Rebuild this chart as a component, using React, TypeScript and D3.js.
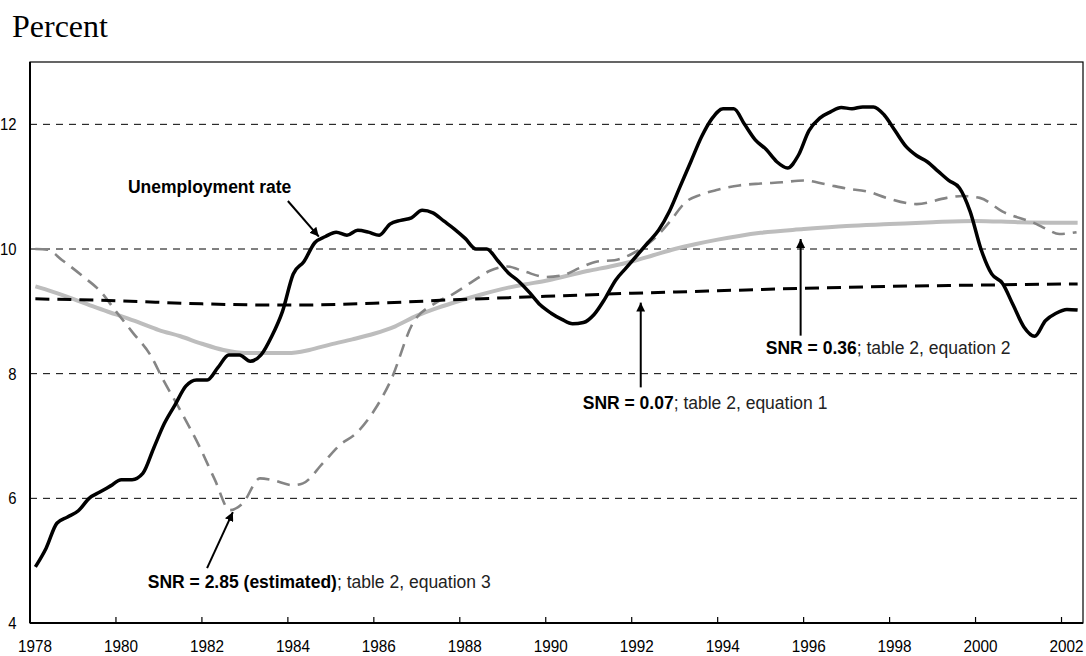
import React from 'react';
import * as d3 from 'd3';

// quarterly unemployment rate, first quarter of 1978 onward (mid-quarter)
const firstQuarter = 1978.125;
const unemployment = [
  4.9, 5.2, 5.6, 5.7, // 1978
  5.8, 6.0, 6.1, 6.2, // 1979
  6.3, 6.3, 6.4, 6.8, // 1980
  7.2, 7.5, 7.8, 7.9, // 1981
  7.9, 8.1, 8.3, 8.3, // 1982
  8.2, 8.3, 8.6, 9.0, // 1983
  9.6, 9.8, 10.1, 10.2, // 1984
  10.27, 10.22, 10.3, 10.27, // 1985
  10.22, 10.4, 10.46, 10.5, // 1986
  10.62, 10.58, 10.45, 10.32, // 1987
  10.17, 10.0, 10.0, 9.82, // 1988
  9.62, 9.48, 9.3, 9.1, // 1989
  8.97, 8.87, 8.8, 8.82, // 1990
  8.95, 9.2, 9.5, 9.7, // 1991
  9.9, 10.1, 10.3, 10.6, // 1992
  11.0, 11.4, 11.8, 12.1, // 1993
  12.25, 12.25, 12.0, 11.75, // 1994
  11.6, 11.4, 11.3, 11.5, // 1995
  11.9, 12.1, 12.2, 12.27, // 1996
  12.25, 12.28, 12.28, 12.15, // 1997
  11.9, 11.65, 11.5, 11.4, // 1998
  11.25, 11.1, 10.98, 10.6, // 1999
  10.0, 9.6, 9.45, 9.1, // 2000
  8.75, 8.6, 8.85, 8.97, // 2001
  9.03, 9.02, // 2002
];

// SNR = 0.07; table 2, equation 1
const eq1Years = [1978.125, 1980, 1982, 1984, 1986, 1988, 1990, 1992, 1994, 1996, 1998, 2000, 2002.375];
const eq1Values = [9.2, 9.17, 9.12, 9.1, 9.13, 9.19, 9.24, 9.29, 9.33, 9.37, 9.4, 9.42, 9.44];

// SNR = 0.36; table 2, equation 2
const eq2Years = [
  1978.125, 1978.5, 1979, 1979.5, 1980, 1980.5, 1981, 1981.5, 1982, 1982.5, 1983, 1983.5,
  1984, 1984.5, 1985, 1985.5, 1986, 1986.5, 1987, 1987.5, 1988, 1988.5, 1989, 1989.5,
  1990, 1990.5, 1991, 1991.5, 1992, 1992.5, 1993, 1993.5, 1994, 1994.5, 1995, 1996,
  1997, 1998, 1999, 2000, 2001, 2002.375,
];
const eq2Values = [
  9.4, 9.32, 9.2, 9.07, 8.95, 8.83, 8.7, 8.6, 8.48, 8.38, 8.33, 8.33,
  8.33, 8.38, 8.47, 8.55, 8.64, 8.76, 8.93, 9.06, 9.17, 9.27, 9.36, 9.43,
  9.49, 9.57, 9.65, 9.72, 9.8, 9.9, 10.0, 10.08, 10.15, 10.21, 10.26, 10.32,
  10.37, 10.4, 10.43, 10.45, 10.43, 10.42,
];

// SNR = 2.85 (estimated); table 2, equation 3
const eq3Years = [
  1978.125, 1978.4, 1978.75, 1979.25, 1979.625, 1980, 1980.4, 1980.8, 1981.1, 1981.5,
  1981.95, 1982.3, 1982.65, 1982.95, 1983.35, 1983.65, 1984.12, 1984.35, 1984.81, 1985.2,
  1985.6, 1986, 1986.4, 1986.9, 1987.4, 1987.85, 1988.3, 1988.7, 1989.1, 1989.5,
  1990, 1990.4, 1990.8, 1991.2, 1991.6, 1992, 1992.5, 1992.9, 1993.25, 1993.6,
  1994, 1994.5, 1995, 1995.5, 1996, 1996.5, 1997, 1997.5, 1997.93, 1998.63,
  1999.33, 1999.7, 2000.1, 2000.63, 2001.42, 2001.65, 2001.95, 2002.35,
];
const eq3Values = [
  10.0, 9.99, 9.82, 9.55, 9.33, 9.0, 8.65, 8.3, 7.9, 7.41,
  6.82, 6.3, 5.81, 5.92, 6.32, 6.29, 6.21, 6.24, 6.56, 6.85,
  7.05, 7.4, 7.9, 8.8, 9.12, 9.28, 9.48, 9.65, 9.72, 9.64,
  9.55, 9.58, 9.7, 9.8, 9.82, 9.92, 10.15, 10.45, 10.75, 10.87,
  10.95, 11.02, 11.05, 11.07, 11.1, 11.04, 10.97, 10.92, 10.82, 10.72,
  10.82, 10.85, 10.82, 10.6, 10.4, 10.32, 10.24, 10.27,
];

const xTickYears = [1978, 1980, 1982, 1984, 1986, 1988, 1990, 1992, 1994, 1996, 1998, 2000, 2002];
const yTickValues = [4, 6, 8, 10, 12];

// callouts in data coordinates: text anchor, arrow tail, arrow tip
const callouts = [
  { bold: 'Unemployment rate', rest: '', size: 17.5, tx: 1980.28, ty: 10.9, x1: 1984.0, y1: 10.77, x2: 1984.72, y2: 10.2 },
  { bold: 'SNR = 2.85 (estimated)', rest: '; table 2, equation 3', size: 17.5, tx: 1980.74, ty: 4.56, x1: 1982.12, y1: 4.88, x2: 1982.72, y2: 5.78 },
  { bold: 'SNR = 0.07', rest: '; table 2, equation 1', size: 17.5, tx: 1990.86, ty: 7.44, x1: 1992.21, y1: 7.78, x2: 1992.21, y2: 9.14 },
  { bold: 'SNR = 0.36', rest: '; table 2, equation 2', size: 17.5, tx: 1995.12, ty: 8.32, x1: 1995.93, y1: 8.61, x2: 1995.93, y2: 10.16 },
];

const sans = "'Liberation Sans', Arial, sans-serif";

const App = () => {
  const width = 1086;
  const height = 656;
  const margin = { top: 62, right: 3, bottom: 33, left: 30 };

  const x = d3.scaleLinear().domain([1978, 2002.5]).range([margin.left, width - margin.right]);
  const y = d3.scaleLinear().domain([4, 13]).range([height - margin.bottom, margin.top]);

  const straight = d3
    .line<[number, number]>()
    .x((d) => x(d[0]))
    .y((d) => y(d[1]))
    .curve(d3.curveLinear);
  const smooth = straight.curve(d3.curveMonotoneX);

  const unempPts = unemployment.map((v, i) => [firstQuarter + i * 0.25, v] as [number, number]);
  const eq1Pts = eq1Years.map((t, i) => [t, eq1Values[i]] as [number, number]);
  const eq2Pts = eq2Years.map((t, i) => [t, eq2Values[i]] as [number, number]);
  const eq3Pts = eq3Years.map((t, i) => [t, eq3Values[i]] as [number, number]);

  const x0 = x.range()[0];
  const x1 = x.range()[1];
  const y0 = y.range()[0];
  const y1 = y.range()[1];

  return (
    <div style={{ position: 'absolute', left: 0, top: 0 }}>
      <svg width={width} height={height} style={{ display: 'block', background: '#fff' }}>
        <defs>
          <clipPath id="plot">
            <rect x={x0} y={y1} width={x1 - x0} height={y0 - y1} />
          </clipPath>
          <marker id="arrow" viewBox="0 0 10 10" refX="10" refY="5" markerWidth="9" markerHeight="9" markerUnits="userSpaceOnUse" orient="auto">
            <path d="M0,0 L10,5 L0,10 Z" fill="#000" />
          </marker>
        </defs>

        <text x={12} y={37} fontFamily="'Liberation Serif', 'Times New Roman', serif" fontSize={32} fill="#000">
          Percent
        </text>

        {/* gridlines */}
        {yTickValues
          .filter((v) => v > 4)
          .map((v) => (
            <line key={v} x1={x0} x2={x1} y1={y(v)} y2={y(v)} stroke="#000" strokeWidth={1} strokeDasharray="7,6" />
          ))}

        {/* y labels (condensed look) */}
        {yTickValues.map((v) => (
          <text
            key={v}
            transform={`translate(16.5,${y(v) + 6}) scale(0.9,1)`}
            textAnchor="end"
            fontFamily={sans}
            fontSize={16.5}
            fill="#000"
          >
            {v}
          </text>
        ))}

        {/* x ticks and labels */}
        {xTickYears.map((t) => (
          <g key={t}>
            {t > 1978 && <line x1={x(t)} x2={x(t)} y1={y0} y2={y0 - 6} stroke="#000" strokeWidth={1.2} />}
            <text
              transform={`translate(${x(t) + 5},${y0 + 29}) scale(0.9,1)`}
              textAnchor="middle"
              fontFamily={sans}
              fontSize={17}
              fill="#000"
            >
              {t}
            </text>
          </g>
        ))}

        <g clipPath="url(#plot)" fill="none">
          <path d={smooth(eq2Pts) || ''} stroke="#bdbdbd" strokeWidth={4} strokeLinejoin="round" />
          <path d={smooth(eq3Pts) || ''} stroke="#858585" strokeWidth={2.6} strokeDasharray="13,8" />
          <path d={smooth(eq1Pts) || ''} stroke="#000" strokeWidth={3} strokeDasharray="14,8" />
          <path d={straight(unempPts) || ''} stroke="#000" strokeWidth={3.5} strokeLinejoin="round" />
        </g>

        {/* frame */}
        <rect x={x0} y={y1} width={x1 - x0} height={y0 - y1} fill="none" stroke="#000" strokeWidth={1.2} />
        <line x1={x0} x2={x0} y1={y1} y2={y0} stroke="#000" strokeWidth={2} />
        <line x1={x0} x2={x1} y1={y0} y2={y0} stroke="#000" strokeWidth={2} />

        {/* callouts */}
        {callouts.map((c) => (
          <g key={c.bold}>
            <line x1={x(c.x1)} y1={y(c.y1)} x2={x(c.x2)} y2={y(c.y2)} stroke="#000" strokeWidth={2} markerEnd="url(#arrow)" />
            <text x={x(c.tx)} y={y(c.ty)} fontFamily={sans} fontSize={c.size} fill="#000">
              <tspan fontWeight="bold">{c.bold}</tspan>
              <tspan fill="#222">{c.rest}</tspan>
            </text>
          </g>
        ))}
      </svg>
    </div>
  );
};

export default App;
